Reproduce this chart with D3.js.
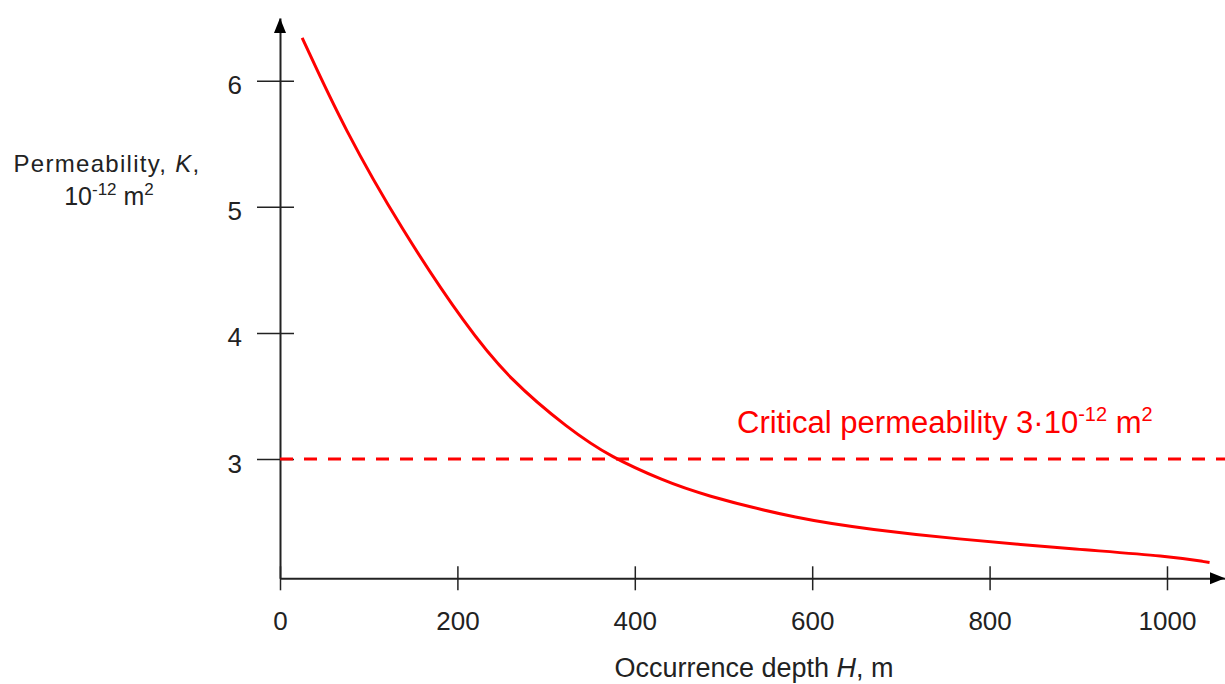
<!DOCTYPE html>
<html>
<head>
<meta charset="utf-8">
<script src="https://cdn.jsdelivr.net/npm/d3@7"></script>
<style>
	body { margin: 0; background: #fff; }
	svg { display: block; font-family: "Liberation Sans", Arial, sans-serif; }
</style>
</head>
<body>
<svg id="chart" width="1225" height="684"></svg>
<script>
// depth H (m) vs permeability K (1e-12 m2)
const depth = [25, 73, 137, 210, 259, 325, 374, 432, 474, 586, 669, 755, 906, 1000, 1048];
const permeability = [6.34, 5.61, 4.82, 4.05, 3.63, 3.24, 3.01, 2.83, 2.72, 2.52, 2.44, 2.37, 2.28, 2.23, 2.18];

const xTicks = [0, 200, 400, 600, 800, 1000];
const yTicks = [3, 4, 5, 6];
const critical = 3;

const red = '#ff0000',
	ink = '#222';

const svg = d3.select('#chart');

const x = d3.scaleLinear()
	.domain([0, 1065.4])
	.range([280, 1225]);

const y = d3.scaleLinear()
	.domain([2.054, 6.497])
	.range([578.3, 18]);

// x axis
const gx = svg.append('g')
	.attr('transform', `translate(0,${y.range()[0]})`)
	.call(d3.axisBottom(x).tickValues(xTicks).tickSizeOuter(0).tickFormat(d3.format('d')));

gx.select('.domain').attr('stroke', ink).attr('stroke-width', 2);
gx.selectAll('.tick line').attr('stroke', ink).attr('stroke-width', 1.5).attr('y1', -12).attr('y2', 12);
gx.selectAll('.tick text')
	.attr('y', 52).attr('dy', null)
	.attr('fill', ink).style('font-size', '26px');

// y axis
const gy = svg.append('g')
	.attr('transform', `translate(${x.range()[0]},0)`)
	.call(d3.axisLeft(y).tickValues(yTicks).tickSizeOuter(0).tickFormat(d3.format('d')));

gy.select('.domain').attr('stroke', ink).attr('stroke-width', 2);
gy.selectAll('.tick line').attr('stroke', ink).attr('stroke-width', 1.5).attr('x1', -23).attr('x2', 14);
gy.selectAll('.tick text')
	.attr('x', -38).attr('dy', '0.5em')
	.attr('fill', ink).style('font-size', '26px');

// arrow heads
const x0 = x.range()[0], yb = y.range()[0];
svg.append('path')
	.attr('d', `M${x0},${y.range()[1]} l-6,15 l12,0 z`)
	.attr('fill', '#000');
svg.append('path')
	.attr('d', `M${x.range()[1]},${yb} l-15,-6 l0,12 z`)
	.attr('fill', '#000');

// critical level
svg.append('line')
	.attr('x1', x0).attr('x2', x.range()[1])
	.attr('y1', y(critical)).attr('y2', y(critical))
	.attr('stroke', red).attr('stroke-width', 3)
	.attr('stroke-dasharray', '13,11');

const crit = svg.append('text')
	.attr('x', 737).attr('y', 433)
	.attr('fill', red).style('font-size', '31px');
crit.append('tspan').text('Critical permeability 3·10');
crit.append('tspan').attr('dy', -12).style('font-size', '20px').text('-12');
crit.append('tspan').attr('dy', 12).text(' m');
crit.append('tspan').attr('dy', -12).style('font-size', '20px').text('2');

// curve (b-spline to keep it smooth like the original)
const line = d3.line()
	.x((d, i) => x(depth[i]))
	.y(d => y(d))
	.curve(d3.curveBasis);

svg.append('path')
	.datum(permeability)
	.attr('d', line)
	.attr('fill', 'none')
	.attr('stroke', red)
	.attr('stroke-width', 3);

// axis titles
const yl = svg.append('text')
	.attr('x', 107).attr('y', 172)
	.attr('text-anchor', 'middle')
	.attr('fill', ink).style('font-size', '24px').style('letter-spacing', '1.3px');
yl.append('tspan').text('Permeability, ');
yl.append('tspan').style('font-style', 'italic').text('K');
yl.append('tspan').text(',');

const yl2 = svg.append('text')
	.attr('x', 109).attr('y', 205)
	.attr('text-anchor', 'middle')
	.attr('fill', ink).style('font-size', '25px');
yl2.append('tspan').text('10');
yl2.append('tspan').attr('dy', -10).style('font-size', '17px').text('-12');
yl2.append('tspan').attr('dy', 10).text(' m');
yl2.append('tspan').attr('dy', -10).style('font-size', '17px').text('2');

const xl = svg.append('text')
	.attr('x', 754).attr('y', 677)
	.attr('text-anchor', 'middle')
	.attr('fill', ink).style('font-size', '27px');
xl.append('tspan').text('Occurrence depth ');
xl.append('tspan').style('font-style', 'italic').text('H');
xl.append('tspan').text(', m');
</script>
</body>
</html>
